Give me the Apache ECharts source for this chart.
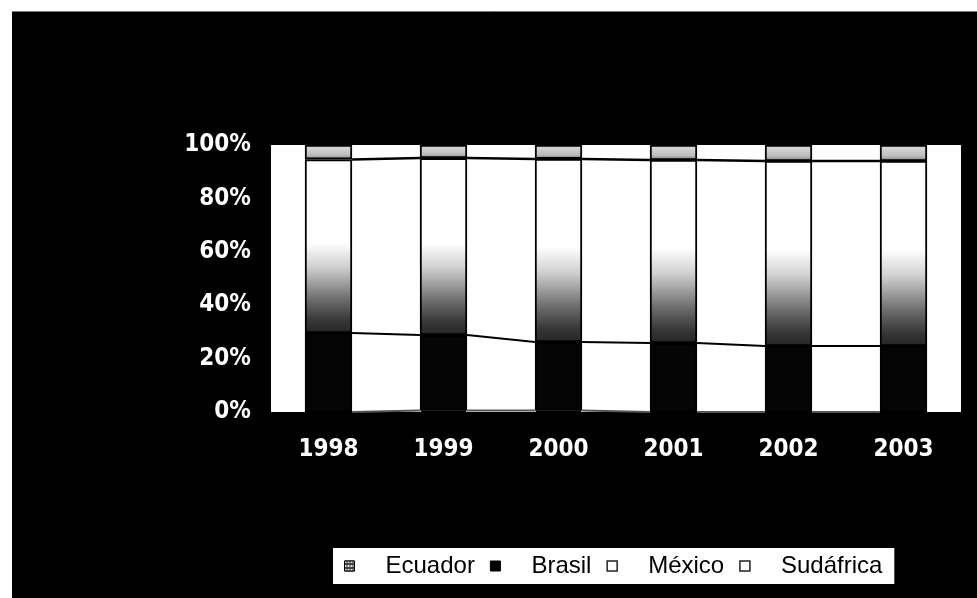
<!DOCTYPE html>
<html>
<head>
<meta charset="utf-8">
<script src="https://cdn.jsdelivr.net/npm/echarts@6/dist/echarts.min.js"></script>
<style>
  html, body { margin: 0; padding: 0; background: #fff; }
  #chart { width: 977px; height: 598px; }
</style>
</head>
<body>
<div id="chart"></div>
<script>
// Share of each country per year (percent of total, 100% stacked)
const years = ['1998', '1999', '2000', '2001', '2002', '2003'];
const ecuador   = [0.0, 0.6, 0.6, 0.0, 0.0, 0.0];
const brasil    = [29.6, 28.2, 25.6, 25.8, 24.7, 24.7];
const mexico    = [65.0, 66.3, 68.6, 68.6, 69.3, 69.3];
const sudafrica = [5.4, 4.9, 5.2, 5.6, 6.0, 6.0];
const yTicks = [0, 20, 40, 60, 80, 100];

const BAR_FRACTION = 0.41;
const FONT_AXIS = '"DejaVu Sans Condensed", "Liberation Sans Narrow", Arial, sans-serif';

// Cumulative tops of the lower three segments, used for the series lines
const tops = years.map((_, i) => {
  const a = ecuador[i];
  const b = a + brasil[i];
  const c = b + mexico[i];
  return [a, b, c];
});
const seriesLineData = years.slice(0, -1).map((_, i) => [i].concat(tops[i], tops[i + 1]));

const outline = { borderColor: '#000', borderWidth: 1.8 };

const chart = echarts.init(document.getElementById('chart'), null, { renderer: 'canvas' });
chart.setOption({
  backgroundColor: '#000',
  animation: false,
  graphic: [
    { type: 'rect', left: 0, top: 0, shape: { width: 977, height: 11 }, style: { fill: '#fff' }, silent: true },
    { type: 'rect', left: 0, top: 0, shape: { width: 12, height: 598 }, style: { fill: '#fff' }, silent: true },
    { type: 'line', shape: { x1: 12, y1: 11.5, x2: 977, y2: 11.5 }, style: { stroke: '#777', lineWidth: 1 }, silent: true }
  ],
  grid: {
    left: 271, right: 16, top: 145, bottom: 186,
    show: true, backgroundColor: '#fff', borderWidth: 0
  },
  legend: {
    left: 333, top: 548,
    backgroundColor: '#fff',
    padding: [6, 12, 6, 11],
    itemWidth: 10, itemHeight: 10, itemGap: 15,
    icon: 'rect',
    textStyle: { color: '#000', fontSize: 24, fontFamily: '"Liberation Sans", Arial, sans-serif', padding: [0, 0, 0, 26] },
    data: [
      { name: 'Ecuador', itemStyle: { color: '#444', borderColor: '#000', borderWidth: 1, decal: { symbol: 'rect', symbolSize: 1, dashArrayX: [2, 1], dashArrayY: [2, 2], color: 'rgba(255,255,255,0.8)' } } },
      { name: 'Brasil', itemStyle: { color: '#000', borderColor: '#000', borderWidth: 1 } },
      { name: 'México', itemStyle: { color: '#fff', borderColor: '#222', borderWidth: 1.5 } },
      { name: 'Sudáfrica', itemStyle: { color: '#fff', borderColor: '#222', borderWidth: 1.5 } }
    ]
  },
  xAxis: {
    type: 'category',
    data: years,
    axisLine: { show: false },
    axisTick: { show: false },
    axisLabel: { color: '#fff', fontFamily: FONT_AXIS, fontWeight: 'bold', fontSize: 24, margin: 26 }
  },
  yAxis: {
    type: 'value',
    min: yTicks[0], max: yTicks[yTicks.length - 1], interval: yTicks[1] - yTicks[0],
    axisLine: { show: false },
    axisTick: { show: false },
    splitLine: { show: false },
    axisLabel: { color: '#fff', fontFamily: FONT_AXIS, fontWeight: 'bold', fontSize: 24, margin: 20, formatter: '{value}%' }
  },
  series: [
    {
      name: 'Ecuador', type: 'bar', stack: 'total', barWidth: (BAR_FRACTION * 100) + '%',
      data: ecuador,
      itemStyle: Object.assign({ color: '#9a9a9a' }, outline)
    },
    {
      name: 'Brasil', type: 'bar', stack: 'total',
      data: brasil,
      itemStyle: Object.assign({ color: '#050505' }, outline)
    },
    {
      name: 'México', type: 'bar', stack: 'total',
      data: mexico,
      itemStyle: Object.assign({
        color: new echarts.graphic.LinearGradient(0, 0, 0, 1, [
          { offset: 0, color: '#ffffff' },
          { offset: 0.48, color: '#ffffff' },
          { offset: 0.62, color: '#d0d0d0' },
          { offset: 0.8, color: '#707070' },
          { offset: 0.93, color: '#363636' },
          { offset: 1, color: '#262626' }
        ])
      }, outline)
    },
    {
      name: 'Sudáfrica', type: 'bar', stack: 'total',
      data: sudafrica,
      itemStyle: Object.assign({
        color: new echarts.graphic.LinearGradient(0, 0, 0, 1, [
          { offset: 0, color: '#dedede' },
          { offset: 0.7, color: '#bdbdbd' },
          { offset: 1, color: '#7a7a7a' }
        ])
      }, outline)
    },
    {
      // Series lines joining the segment tops of neighbouring columns
      type: 'custom',
      silent: true,
      z: 5,
      encode: { x: 0, y: 1 },
      data: seriesLineData,
      renderItem: function (params, api) {
        const i = api.value(0);
        const half = api.size([1, 0])[0] * BAR_FRACTION / 2;
        const children = [];
        for (let k = 0; k < 3; k++) {
          const p1 = api.coord([i, api.value(1 + k)]);
          const p2 = api.coord([i + 1, api.value(4 + k)]);
          children.push({
            type: 'line',
            shape: { x1: p1[0] + half, y1: p1[1], x2: p2[0] - half, y2: p2[1] },
            style: { stroke: k === 0 ? '#555' : '#000', lineWidth: k === 2 ? 2.5 : 2 }
          });
        }
        return { type: 'group', children: children };
      }
    }
  ]
});
</script>
</body>
</html>
